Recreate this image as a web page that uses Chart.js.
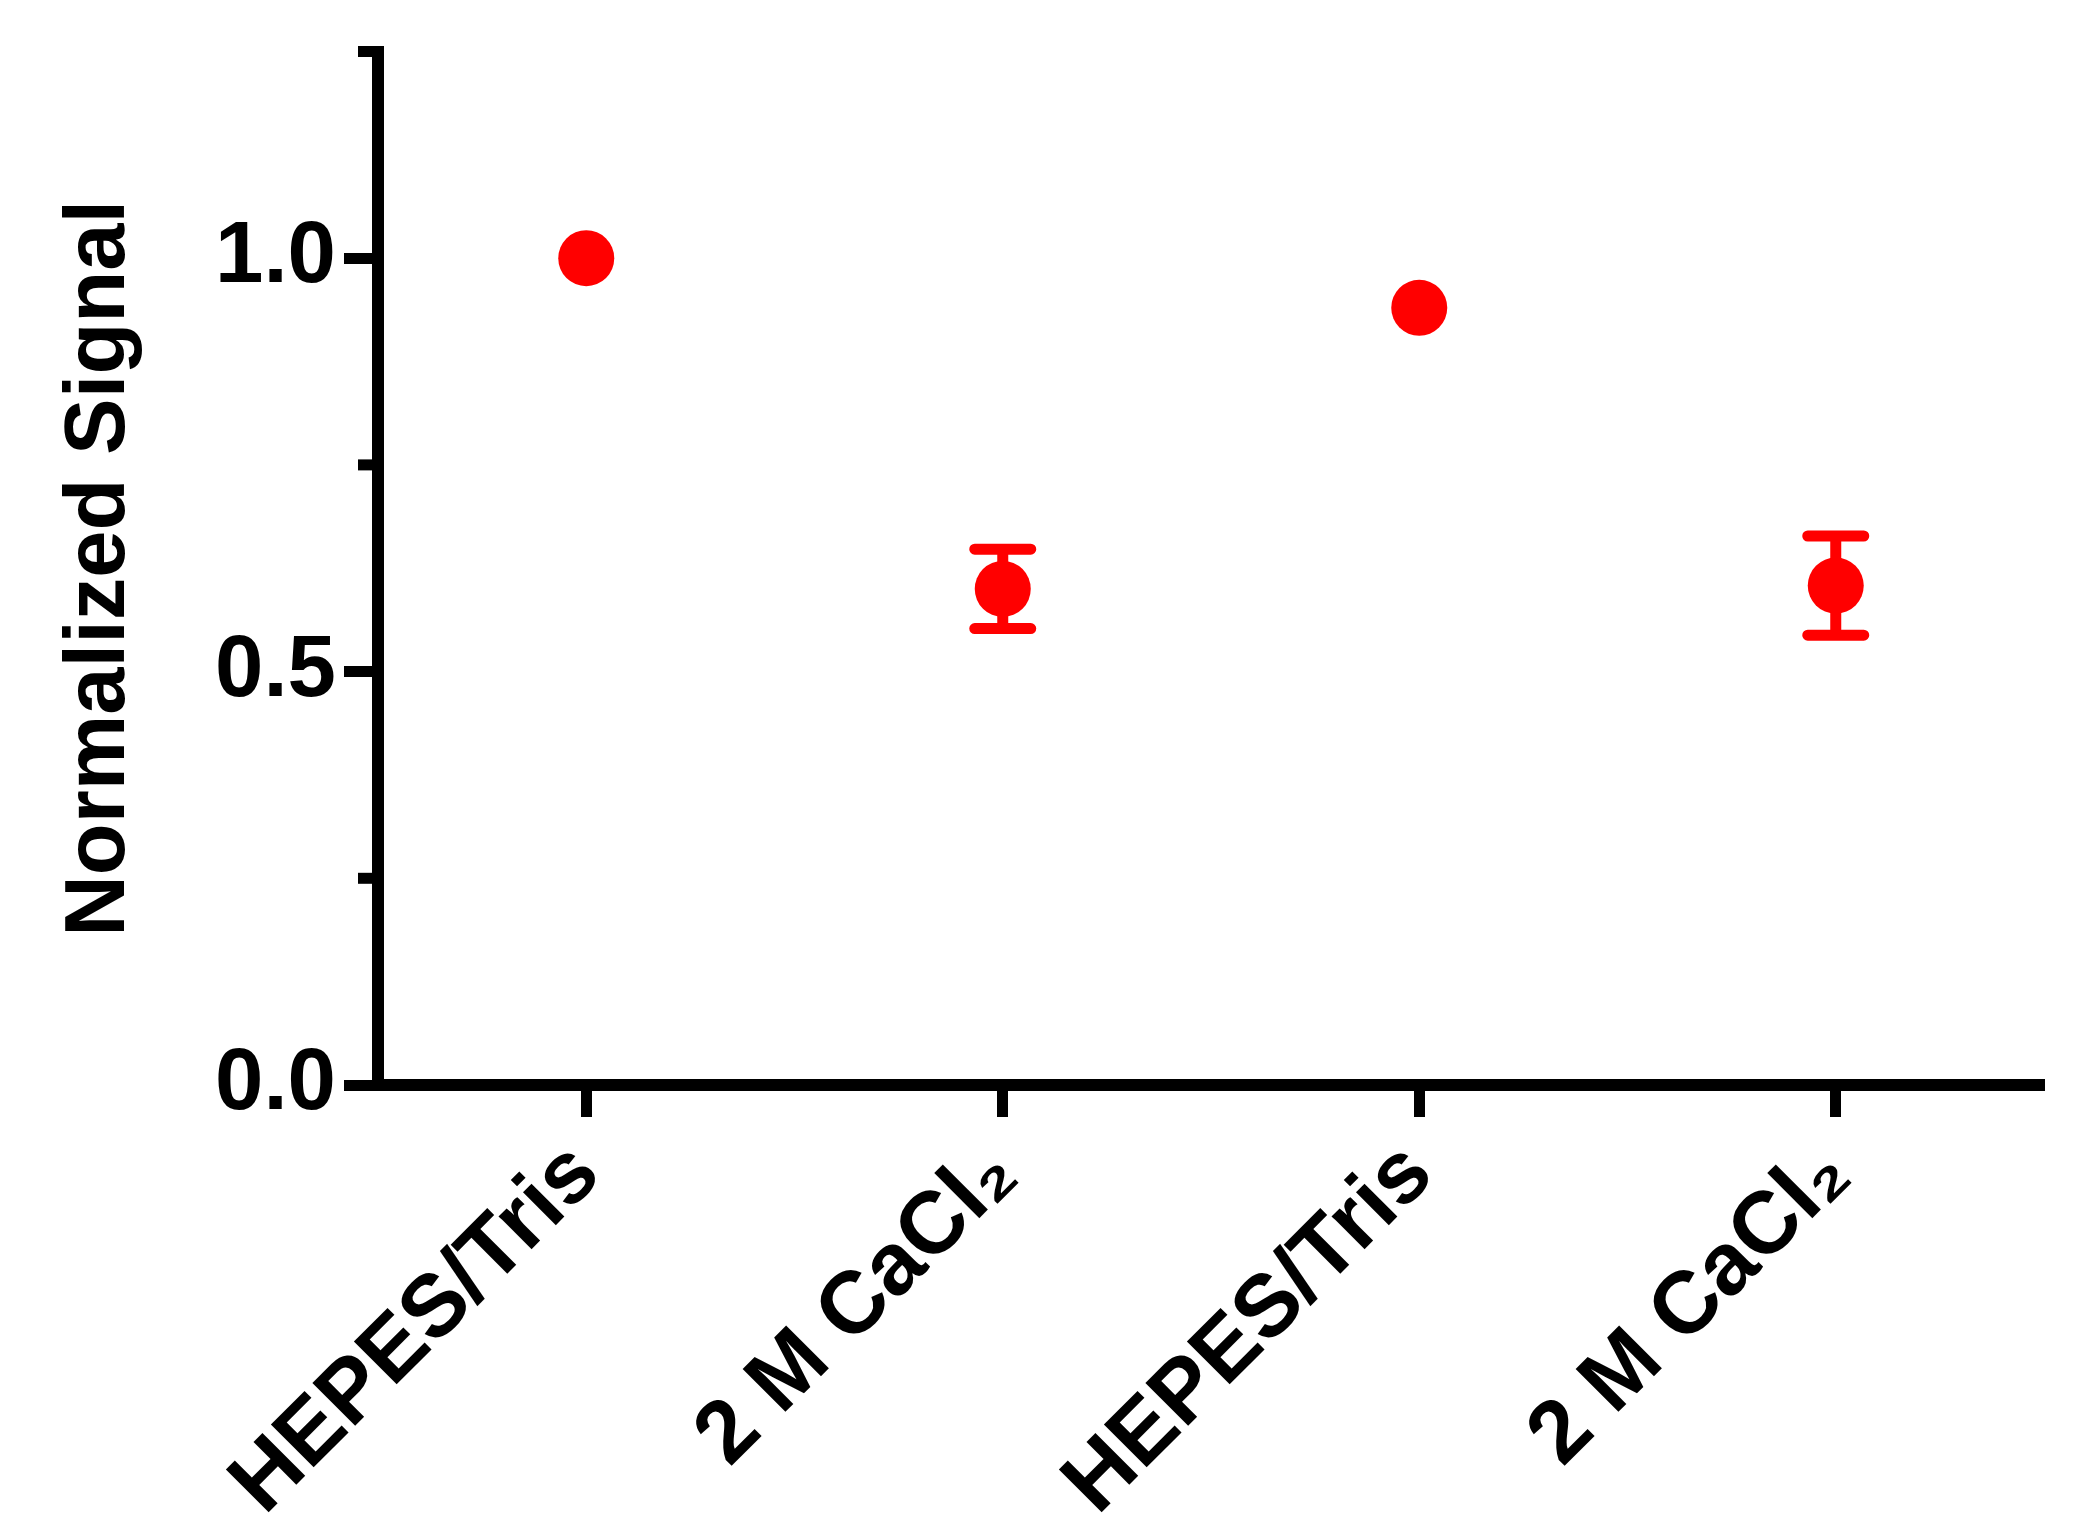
<!DOCTYPE html>
<html>
<head>
<meta charset="utf-8">
<script src="https://cdn.jsdelivr.net/npm/chart.js@4.4.1/dist/chart.umd.min.js"></script>
<style>
  html, body { margin: 0; padding: 0; background: #fff; }
  canvas { display: block; }
</style>
</head>
<body>
<canvas id="signalChart" width="2088" height="1534"></canvas>
<script>
const categories = ["HEPES/Tris", "2 M CaCl\u2082", "HEPES/Tris", "2 M CaCl\u2082"];
const signalMeans = [1.0, 0.60, 0.94, 0.604];
const signalErrors = [0, 0.048, 0, 0.06];
const majorTicks = [0, 0.5, 1.0];
const minorTicks = [0.25, 0.75, 1.25];
const axisTitle = "Normalized Signal";

const RED = "#ff0000";
const BLACK = "#000000";
const FONT = "'Liberation Sans', Arial, Helvetica, sans-serif";

// error bars and the short minor ticks, positioned by the chart's own scales
const extrasPlugin = {
    id: "extras",
    beforeDatasetsDraw(chart) {
        const ctx = chart.ctx;
        const x = chart.scales.x, y = chart.scales.y;
        ctx.save();
        ctx.strokeStyle = RED;
        ctx.lineWidth = 11;
        ctx.lineCap = "round";
        signalMeans.forEach((m, i) => {
            const e = signalErrors[i];
            if (!e) return;
            const px = x.getPixelForValue(i);
            const top = y.getPixelForValue(m + e);
            const bot = y.getPixelForValue(m - e);
            ctx.beginPath();
            ctx.moveTo(px, top); ctx.lineTo(px, bot);
            ctx.moveTo(px - 28, top); ctx.lineTo(px + 28, top);
            ctx.moveTo(px - 28, bot); ctx.lineTo(px + 28, bot);
            ctx.stroke();
        });
        ctx.restore();
    },
    afterDraw(chart) {
        const ctx = chart.ctx, y = chart.scales.y;
        const left = chart.chartArea.left;
        ctx.save();
        ctx.strokeStyle = BLACK;
        ctx.lineWidth = 11;
        minorTicks.forEach(v => {
            const py = y.getPixelForValue(v);
            ctx.beginPath();
            ctx.moveTo(left - 20, py); ctx.lineTo(left, py);
            ctx.stroke();
        });
        ctx.restore();
    }
};

const ctx = document.getElementById("signalChart").getContext("2d");
new Chart(ctx, {
    type: "line",
    data: {
        labels: categories,
        datasets: [{
            data: signalMeans,
            showLine: false,
            pointRadius: 28,
            pointHoverRadius: 28,
            pointBackgroundColor: RED,
            pointBorderWidth: 0,
            borderColor: RED
        }]
    },
    options: {
        responsive: false,
        animation: false,
        devicePixelRatio: 1,
        layout: { padding: { top: 50, right: 44, bottom: 0, left: 0 } },
        plugins: {
            legend: { display: false },
            tooltip: { enabled: false }
        },
        scales: {
            x: {
                offset: true,
                ticks: {
                    font: { family: FONT, size: 88, weight: "bold" },
                    color: BLACK,
                    maxRotation: 45,
                    minRotation: 45,
                    autoSkip: false,
                    padding: 6
                },
                grid: { drawOnChartArea: false, offset: false, tickLength: 32, tickWidth: 11, tickColor: BLACK },
                border: { width: 12, color: BLACK },
                afterFit(s) { s.height = 449; }
            },
            y: {
                min: 0,
                max: 1.25,
                afterBuildTicks(s) { s.ticks = majorTicks.map(v => ({ value: v })); },
                ticks: {
                    callback: v => v.toFixed(1),
                    font: { family: FONT, size: 87, weight: "bold", lineHeight: 1 },
                    color: BLACK,
                    padding: 8
                },
                grid: { drawOnChartArea: false, tickLength: 34, tickWidth: 11, tickColor: BLACK },
                border: { width: 12, color: BLACK },
                title: {
                    display: true,
                    text: axisTitle,
                    font: { family: FONT, size: 85, weight: "bold" },
                    color: BLACK,
                    padding: { top: 50, bottom: 0 }
                },
                afterFit(s) { s.width = 378; }
            }
        }
    },
    plugins: [extrasPlugin]
});
</script>
</body>
</html>
